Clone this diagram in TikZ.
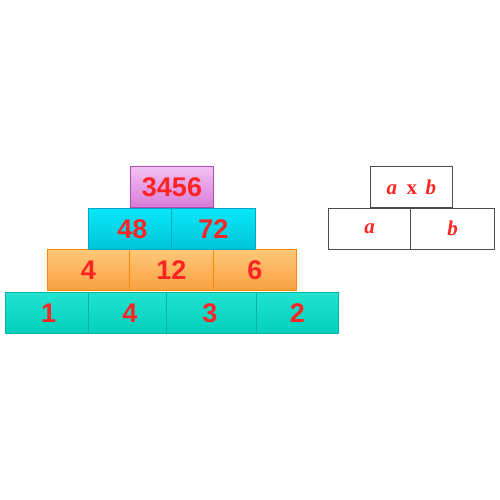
\documentclass[tikz,border=0pt]{standalone}
\usepackage{fontspec}
\setmainfont{Liberation Sans}
\newfontfamily\serifb{Liberation Serif}
\definecolor{numred}{HTML}{FF2424}
\definecolor{pinkT}{HTML}{F2C0F2}
\definecolor{pinkB}{HTML}{D87CD8}
\definecolor{pinkD}{HTML}{B24CB2}
\definecolor{cyanT}{HTML}{08E8F8}
\definecolor{cyanB}{HTML}{00C4D8}
\definecolor{cyanD}{HTML}{00A8C4}
\definecolor{orT}{HTML}{FFC878}
\definecolor{orB}{HTML}{F8A040}
\definecolor{orD}{HTML}{FF8A00}
\definecolor{tlT}{HTML}{22E2D0}
\definecolor{tlB}{HTML}{00D0BC}
\definecolor{tlD}{HTML}{00B4A4}
\begin{document}
\begin{tikzpicture}[x=1pt,y=-1pt,
  cell/.style={rectangle,inner sep=0pt,minimum height=41pt,line width=0.9pt,
    font=\fontsize{27}{27}\selectfont\bfseries,text=numred},
  pinkc/.style={cell,draw=pinkD,top color=pinkT,bottom color=pinkB},
  cyanc/.style={cell,draw=cyanD,top color=cyanT,bottom color=cyanB},
  orc/.style={cell,draw=orD,top color=orT,bottom color=orB},
  tlc/.style={cell,draw=tlD,top color=tlT,bottom color=tlB},
  wbox/.style={rectangle,inner sep=0pt,minimum height=41pt,draw=black!70,line width=1pt,fill=white,
    font=\serifb\fontsize{21}{21}\selectfont\bfseries,text=numred}]
\useasboundingbox (0,0) rectangle (500,500);
% row 4
\node[tlc,minimum width=82.7pt] (r41) at (46.65,312.8) {\hspace*{4pt}1};
\node[tlc,minimum width=78.7pt] (r42) at (127.35,312.8) {\hspace*{5pt}4};
\node[tlc,minimum width=89.3pt] (r43) at (211.35,312.8) {3\hspace*{3pt}};
\node[tlc,minimum width=82.7pt] (r44) at (297.35,312.8) {2};
% row 3
\node[orc,minimum width=82pt] (r31) at (88.3,270.3) {4};
\node[orc,minimum width=84pt] (r32) at (171.3,270.3) {12};
\node[orc,minimum width=83.4pt] (r33) at (255,270.3) {6};
% row 2
\node[cyanc,minimum width=82.6pt] (r21) at (130,228.8) {\hspace*{5pt}48};
\node[cyanc,minimum width=84pt] (r22) at (213.3,228.8) {72};
% top
\node[pinkc,minimum width=82.6pt] (r11) at (172,187.2) {3456};
% legend
\node[wbox,minimum width=82.7pt] (ab) at (411.35,187.2) {\itshape a\hspace{0.45em}\upshape x\hspace{0.4em}\itshape b};
\node[wbox,minimum width=82.4pt] (la) at (369.5,228.7) {\itshape a};
\node[wbox,minimum width=83.6pt] (lb) at (452.5,228.7) {\itshape b};
\end{tikzpicture}
\end{document}
